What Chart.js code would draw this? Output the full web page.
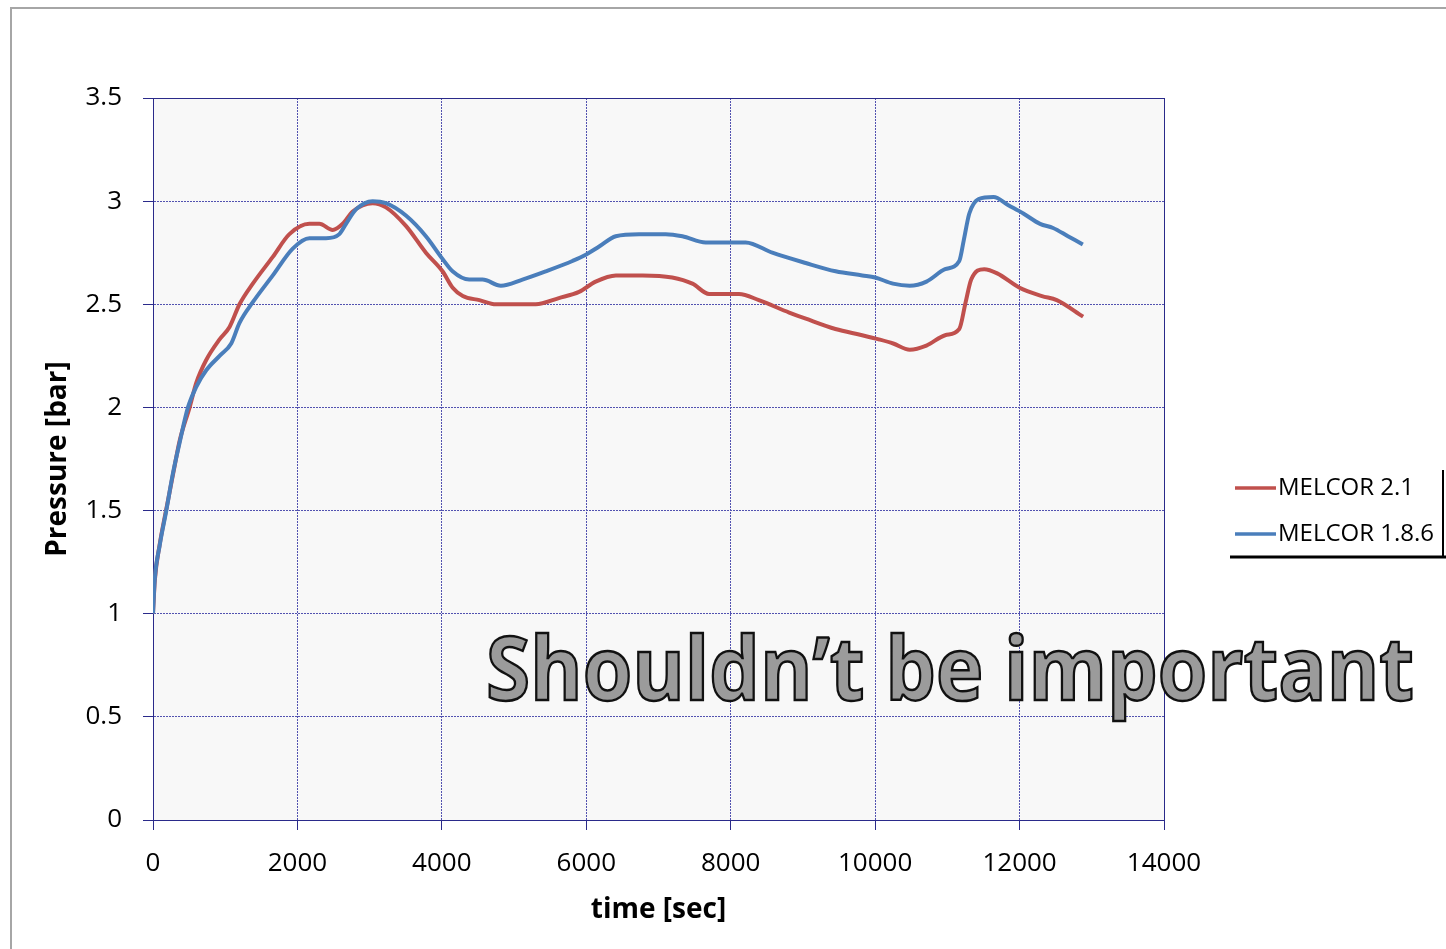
<!DOCTYPE html>
<html>
<head>
<meta charset="utf-8">
<script src="https://cdn.jsdelivr.net/npm/chart.js@4"></script>
<style>
  html, body { margin: 0; padding: 0; background: #ffffff; }
  #frame {
    position: absolute; left: 10px; top: 7px; right: 0; bottom: 0;
    border-left: 2px solid #a6a6a6; border-top: 2px solid #a6a6a6;
  }
  #pressureChart { position: absolute; left: 0; top: 0; }
</style>
</head>
<body>
<div id="frame"></div>
<canvas id="pressureChart" width="1446" height="949"></canvas>
<script>
// MELCOR 2.1 (red)
const melcor21Time = [0, 25, 90, 180, 280, 370, 507, 600, 737, 922, 1060, 1198, 1382, 1659, 1889,
  2166, 2304, 2488, 2627, 2765, 3041, 3226, 3502, 3779, 4009, 4150, 4290, 4520, 4750, 5300, 5620,
  5900, 6130, 6410, 6780, 7190, 7470, 7700, 8115, 8390, 8810, 9040, 9450, 9820, 10050, 10250,
  10480, 10710, 10970, 11165, 11253, 11330, 11510, 11690, 12000, 12310, 12515, 12880];
const melcor21Pressure = [1.0, 1.16, 1.33, 1.5, 1.68, 1.84, 2.0, 2.12, 2.23, 2.33, 2.39, 2.5, 2.6,
  2.73, 2.84, 2.89, 2.89, 2.86, 2.89, 2.95, 2.99, 2.97, 2.88, 2.75, 2.66, 2.58, 2.54, 2.52, 2.5,
  2.5, 2.53, 2.56, 2.61, 2.64, 2.64, 2.63, 2.6, 2.55, 2.55, 2.52, 2.46, 2.43, 2.38, 2.35, 2.33,
  2.31, 2.28, 2.3, 2.35, 2.38, 2.51, 2.62, 2.67, 2.65, 2.58, 2.54, 2.52, 2.44];

// MELCOR 1.8.6 (blue)
const melcor186Time = [0, 23, 92, 184, 276, 369, 484, 599, 737, 922, 1083, 1198, 1382, 1659, 1935,
  2166, 2396, 2581, 2673, 2811, 3041, 3226, 3502, 3779, 4009, 4148, 4378, 4563, 4817, 5116, 5439,
  5808, 5993, 6178, 6408, 6731, 7100, 7331, 7654, 8000, 8207, 8576, 9038, 9453, 9822, 10000,
  10247, 10479, 10711, 10969, 11165, 11227, 11304, 11433, 11639, 11845, 12052, 12284, 12464,
  12670, 12876];
const melcor186Pressure = [1.0, 1.16, 1.33, 1.5, 1.68, 1.83, 2.0, 2.1, 2.18, 2.25, 2.31, 2.41, 2.51,
  2.64, 2.77, 2.82, 2.82, 2.84, 2.89, 2.96, 3.0, 2.99, 2.93, 2.83, 2.72, 2.66, 2.62, 2.62, 2.59,
  2.62, 2.66, 2.71, 2.74, 2.78, 2.83, 2.84, 2.84, 2.83, 2.8, 2.8, 2.8, 2.75, 2.7, 2.66, 2.64,
  2.63, 2.6, 2.59, 2.61, 2.67, 2.71, 2.81, 2.94, 3.01, 3.02, 2.98, 2.94, 2.89, 2.87, 2.83, 2.79];

const seriesLabels = ["MELCOR 2.1", "MELCOR 1.8.6"];
const seriesColors = ["#c0504d", "#4a7ebb"];
const watermarkText = "Shouldn\u2019t be important";

const NAVY = "#2a2a8a";
const GRID = "#5252b0";
const FONT = '"Open Sans", "DejaVu Sans", sans-serif';

function toPoints(times, values) {
  return times.map((t, i) => ({ x: t, y: values[i] }));
}

// Plot area fill + solid border
const plotFrame = {
  id: "plotFrame",
  beforeDraw(chart) {
    const { ctx, chartArea: a } = chart;
    ctx.save();
    ctx.fillStyle = "#f8f8f8";
    ctx.fillRect(a.left, a.top, a.right - a.left, a.bottom - a.top);
    ctx.restore();
  },
  beforeDatasetsDraw(chart) {
    const { ctx, chartArea: a } = chart;
    ctx.save();
    ctx.strokeStyle = NAVY;
    ctx.lineWidth = 1;
    ctx.strokeRect(a.left + 0.5, a.top + 0.5, a.right - a.left, a.bottom - a.top);
    ctx.restore();
  },
};

// Legend on the right, plus the watermark text
const extras = {
  id: "extras",
  afterDraw(chart) {
    const ctx = chart.ctx;
    ctx.save();
    chart.data.datasets.forEach((ds, i) => {
      const y = 488 + i * 46;
      ctx.strokeStyle = ds.borderColor;
      ctx.lineWidth = 3.5;
      ctx.beginPath();
      ctx.moveTo(1235, y);
      ctx.lineTo(1276, y);
      ctx.stroke();
      ctx.fillStyle = "#000";
      ctx.font = "24px " + FONT;
      ctx.textBaseline = "middle";
      ctx.fillText(ds.label, 1278, y);
    });
    ctx.strokeStyle = "#000";
    ctx.lineWidth = 3;
    ctx.beginPath();
    ctx.moveTo(1230, 557);
    ctx.lineTo(1446, 557);
    ctx.stroke();
    ctx.lineWidth = 2;
    ctx.beginPath();
    ctx.moveTo(1443, 470);
    ctx.lineTo(1443, 557);
    ctx.stroke();

    ctx.font = "bold 87px " + FONT;
    ctx.textBaseline = "alphabetic";
    ctx.fillStyle = "#9b9b9b";
    ctx.fillText(watermarkText, 486, 700, 928);
    ctx.strokeStyle = "#111";
    ctx.lineWidth = 2.5;
    ctx.strokeText(watermarkText, 486, 700, 928);
    ctx.restore();
  },
};

const ctx = document.getElementById("pressureChart");
new Chart(ctx, {
  type: "line",
  data: {
    datasets: [
      {
        label: seriesLabels[0],
        data: toPoints(melcor21Time, melcor21Pressure),
        borderColor: seriesColors[0],
        borderWidth: 4,
        pointRadius: 0,
        cubicInterpolationMode: "monotone",
        fill: false,
        order: 1,
      },
      {
        label: seriesLabels[1],
        data: toPoints(melcor186Time, melcor186Pressure),
        borderColor: seriesColors[1],
        borderWidth: 4,
        pointRadius: 0,
        cubicInterpolationMode: "monotone",
        fill: false,
        order: 0,
      },
    ],
  },
  options: {
    responsive: false,
    animation: false,
    devicePixelRatio: 1,
    layout: { padding: { left: 37, top: 98, right: 282, bottom: 0 } },
    plugins: {
      legend: { display: false },
      tooltip: { enabled: false },
    },
    scales: {
      x: {
        type: "linear",
        min: 0,
        max: 14000,
        afterFit: (scale) => { scale.height = 129; },
        ticks: {
          stepSize: 2000,
          color: "#000",
          padding: 18,
          maxRotation: 0,
          font: { family: FONT, size: 26 },
          callback: (value) => String(value),
        },
        grid: { color: GRID, lineWidth: 1, tickLength: 10, tickColor: NAVY },
        border: { display: true, color: NAVY, width: 1, dash: [2, 1] },
        title: {
          display: true,
          text: "time [sec]",
          color: "#000",
          font: { family: FONT, size: 28, weight: "bold" },
          padding: { top: 4, bottom: 22 },
        },
      },
      y: {
        min: 0,
        max: 3.5,
        afterFit: (scale) => { scale.width = 116; },
        ticks: {
          stepSize: 0.5,
          color: "#000",
          padding: 21,
          font: { family: FONT, size: 26 },
          callback: (value) => String(value),
        },
        grid: { color: GRID, lineWidth: 1, tickLength: 10, tickColor: NAVY },
        border: { display: true, color: NAVY, width: 1, dash: [2, 1] },
        title: {
          display: true,
          text: "Pressure [bar]",
          color: "#000",
          font: { family: FONT, size: 28, weight: "bold" },
          padding: { top: 4, bottom: 4 },
        },
      },
    },
  },
  plugins: [plotFrame, extras],
});
</script>
</body>
</html>
